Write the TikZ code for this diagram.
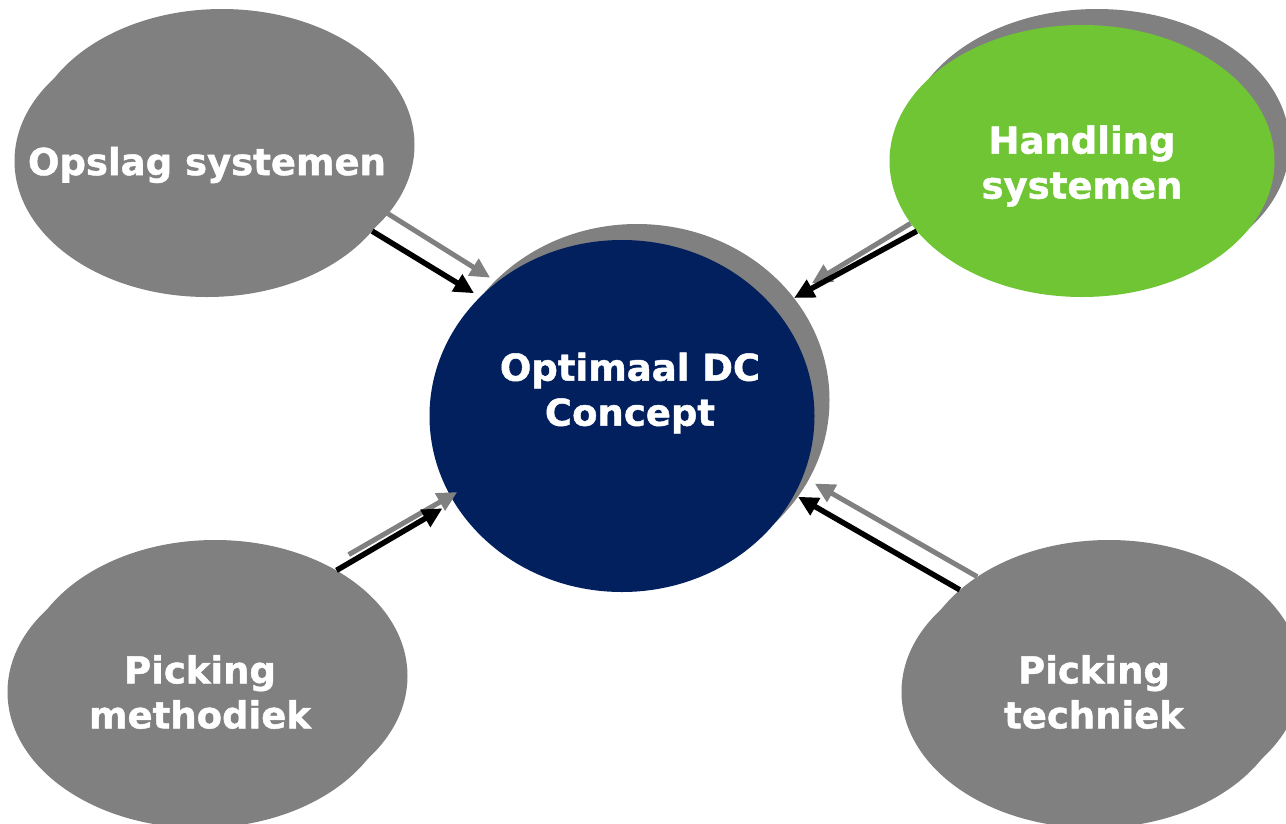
\documentclass[tikz,border=0pt]{standalone}
\usepackage{fontspec}
\setmainfont{DejaVu Sans}[BoldFeatures={FakeBold=1.2}]
\usepackage{xcolor}
\usetikzlibrary{shapes.geometric,arrows.meta}
\definecolor{navy}{RGB}{2,32,94}
\definecolor{leaf}{RGB}{112,197,53}
\definecolor{stone}{RGB}{128,128,128}

\begin{document}
\begin{tikzpicture}[x=1pt,y=-1pt,
            blob/.style={shape=ellipse, inner sep=0pt, minimum width=385pt, minimum height=272pt, fill=stone},
            lbl/.style={text=white, align=center, font=\bfseries\fontsize{37}{45}\selectfont},
            blk/.style={line width=5.5pt, black, -{Triangle[length=20pt,width=19pt]}},
            gry/.style={line width=5pt, stone, -{Triangle[length=20pt,width=19pt]}}]
        \useasboundingbox (0,0) rectangle (1286,823);

        % shadows
        \node[blob] (opslags) at (222,145) {};
        \node[blob] (handlings) at (1097,145) {};
        \node[blob] (methodieks) at (215,676) {};
        \node[blob] (technieks) at (1109,676) {};
        \node[blob, minimum height=352pt] (dcs) at (637,400) {};

        \node[blob, label={[lbl, yshift=-4pt]center:{Opslag systemen}}] (opslag) at (207,161) {};
        \node[blob, fill=leaf, label={[lbl, yshift=-5pt]center:{Handling\\systemen}}] (handling) at (1082,161) {};
        \node[blob, label={[lbl]center:{Picking\\methodiek}}] (methodiek) at (200,692) {};
        \node[blob, label={[lbl]center:{Picking\\techniek}}] (techniek) at (1094,692) {};
        \node[blob, fill=navy, minimum height=352pt,
              label={[lbl, xshift=8pt, yshift=23pt]center:{Optimaal DC\\Concept}}] (dc) at (622,416) {};

        \draw[gry, shorten >=8pt] (opslag.-16) -- (dc.133);
        \draw[blk, shorten >=7pt] (opslag.-23.5) -- (dc.140);

        \draw[gry, shorten >=23pt] (handling.200) -- (dcs.34);
        \draw[blk] (handling.203) -- (dcs.33);

        \draw[gry, shorten <=23pt, shorten >=-8pt] (methodieks.44) -- (dc.205);
        \draw[blk, shorten >=13pt] (methodieks.41) -- (dc.207);

        \draw[gry, shorten >=7pt] (technieks.143) -- (dcs.-25);
        \draw[blk] (technieks.150) -- (dcs.-31);
    \end{tikzpicture}
\end{document}
